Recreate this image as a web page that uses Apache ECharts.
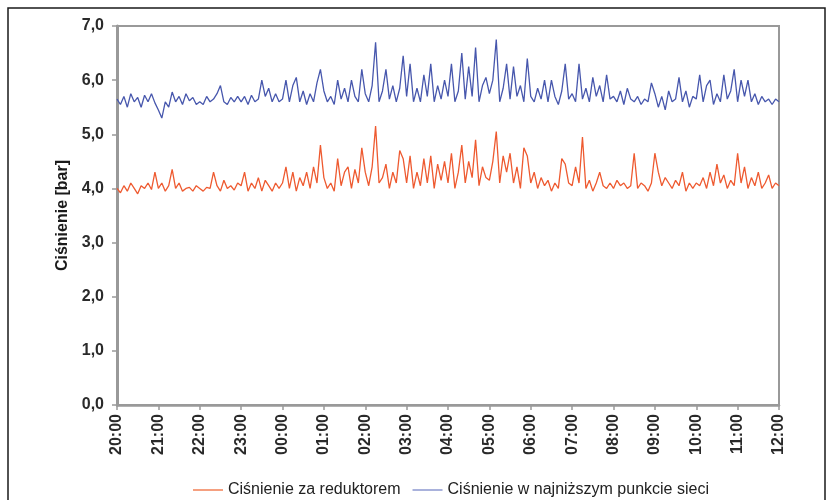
<!DOCTYPE html>
<html><head><meta charset="utf-8">
<script src="https://cdn.jsdelivr.net/npm/echarts@6/dist/echarts.min.js"></script>
<style>html,body{margin:0;padding:0;background:#fff}#c{width:828px;height:500px}</style>
</head><body><div id="c"></div>
<script>
// time in hours from 20:00, 5-minute steps
const stepHours = 5 / 60;
const xTickLabels = ['20:00','21:00','22:00','23:00','00:00','01:00','02:00','03:00','04:00','05:00','06:00','07:00','08:00','09:00','10:00','11:00','12:00'];
const yTickLabels = ['0,0','1,0','2,0','3,0','4,0','5,0','6,0','7,0'];
const seriesNames = ['Ciśnienie za reduktorem', 'Ciśnienie w najniższym punkcie sieci'];

const reduktor = [
 4.0,3.92,4.05,3.95,4.1,4.0,3.9,4.05,4.0,4.1,3.98,4.3,
 4.0,4.1,3.95,4.05,4.35,4.0,4.1,3.95,4.0,4.02,3.95,4.05,
 4.0,3.95,4.02,4.0,4.3,4.05,3.95,4.15,4.0,4.05,3.97,4.1,
 4.05,4.3,3.95,4.1,4.0,4.2,3.95,4.15,4.05,3.95,4.1,4.0,
 4.1,4.4,4.0,4.3,3.95,4.2,4.05,4.3,4.0,4.4,4.1,4.8,
 4.2,4.0,4.1,3.95,4.55,4.05,4.3,4.4,4.0,4.35,4.1,4.75,
 4.3,4.05,4.4,5.15,4.1,4.2,4.45,4.0,4.3,4.1,4.7,4.55,
 4.1,4.6,4.0,4.3,4.05,4.55,4.1,4.6,4.0,4.45,4.15,4.5,
 4.1,4.65,4.0,4.3,4.8,4.1,4.5,4.2,4.9,4.05,4.4,4.2,
 4.15,4.5,5.05,4.1,4.6,4.3,4.65,4.1,4.4,4.0,4.75,4.6,
 4.1,4.3,4.0,4.2,4.05,4.15,3.95,4.1,4.0,4.55,4.45,4.1,
 4.05,4.4,4.1,4.95,4.0,4.15,3.95,4.1,4.3,4.05,4.0,4.1,
 4.0,4.15,4.05,4.1,4.0,4.05,4.65,4.0,4.1,4.05,3.95,4.1,
 4.65,4.3,4.05,4.2,4.1,4.0,4.15,4.05,4.3,3.95,4.1,4.0,
 4.1,4.05,4.2,4.0,4.3,4.05,4.45,4.1,4.25,4.0,4.15,4.05,
 4.65,4.1,4.4,4.0,4.2,4.05,4.3,4.0,4.1,4.25,4.0,4.1,
 4.05
];
const najnizszy = [
 5.65,5.55,5.7,5.5,5.75,5.6,5.68,5.5,5.72,5.6,5.75,5.58,
 5.45,5.3,5.6,5.5,5.78,5.6,5.7,5.55,5.75,5.62,5.68,5.55,
 5.6,5.55,5.7,5.6,5.65,5.75,5.9,5.6,5.55,5.68,5.6,5.7,
 5.6,5.7,5.55,5.72,5.6,5.65,6.0,5.7,5.85,5.6,5.75,5.6,
 5.65,6.0,5.6,5.9,6.05,5.6,5.8,5.55,5.75,5.6,5.95,6.2,
 5.8,5.6,5.7,5.55,6.0,5.65,5.85,5.6,6.0,5.7,5.6,6.2,
 5.75,5.6,5.9,6.7,5.6,5.8,6.2,5.65,5.9,5.6,5.85,6.45,
 5.7,6.3,5.6,5.85,5.6,6.1,5.7,6.3,5.6,5.9,5.65,6.0,
 5.7,6.3,5.6,5.8,6.5,5.65,6.25,5.7,6.6,5.6,5.9,6.05,
 5.75,6.0,6.75,5.6,5.85,6.3,5.65,6.25,5.7,5.9,5.6,6.4,
 5.7,5.6,5.85,5.65,6.0,5.6,6.0,5.7,5.55,5.8,6.3,5.65,
 5.75,5.6,6.3,5.65,5.85,5.6,6.05,5.7,5.9,5.6,6.1,5.65,
 5.7,5.6,5.8,5.55,5.85,5.65,5.6,5.7,5.55,5.65,5.6,5.95,
 5.75,5.5,5.7,5.45,5.8,5.6,5.65,6.05,5.6,5.8,5.5,5.7,
 5.65,6.1,5.6,5.9,6.0,5.55,5.75,5.6,6.1,5.65,5.8,6.2,
 5.6,6.0,5.7,6.0,5.6,5.75,5.55,5.7,5.6,5.65,5.55,5.65,
 5.6
];

const toPairs = arr => arr.map((v, i) => [i * stepHours, v]);

const chart = echarts.init(document.getElementById('c'), null, {renderer: 'canvas'});
const axisGray = '#999999';
const font = 'Liberation Sans, Arial, sans-serif';
chart.setOption({
  animation: false,
  backgroundColor: '#fff',
  graphic: [{
    type: 'rect', shape: {x: 8, y: 8, width: 817, height: 510},
    style: {fill: 'none', stroke: '#1a1a1a', lineWidth: 1.5}, silent: true
  }],
  grid: {left: 117, right: 49, top: 26, bottom: 95, show: true, borderColor: axisGray, borderWidth: 2},
  legend: {
    left: 188, top: 477, itemWidth: 30, itemHeight: 2, itemGap: 12, icon: 'rect',
    textStyle: {fontFamily: font, fontSize: 16, color: '#222'},
    data: seriesNames
  },
  xAxis: {
    type: 'value', min: 0, max: 16, interval: 1,
    axisLine: {show: true, lineStyle: {color: axisGray, width: 2.5}},
    axisTick: {show: true, length: 5, lineStyle: {color: axisGray, width: 1.5}},
    splitLine: {show: false},
    axisLabel: {
      rotate: 90, margin: 9, color: '#2a2a2a', fontWeight: 'bold', fontSize: 16,
      fontFamily: font,
      formatter: v => xTickLabels[Math.round(v)]
    }
  },
  yAxis: {
    type: 'value', min: 0, max: 7, interval: 1,
    name: 'Ciśnienie [bar]', nameLocation: 'middle', nameGap: 42,
    nameTextStyle: {fontWeight: 'bold', fontSize: 16, color: '#1a1a1a', fontFamily: font},
    axisLine: {show: true, lineStyle: {color: axisGray, width: 3}},
    axisTick: {show: true, length: 5, lineStyle: {color: axisGray, width: 1.5}},
    splitLine: {show: false},
    axisLabel: {
      margin: 13, color: '#2a2a2a', fontWeight: 'bold', fontSize: 16,
      fontFamily: font,
      formatter: v => yTickLabels[Math.round(v)]
    }
  },
  series: [
    {name: seriesNames[0], type: 'line', data: toPairs(reduktor), showSymbol: false, symbol: 'none',
     lineStyle: {color: '#ee5a30', width: 1.3}, itemStyle: {color: '#f5a080'}},
    {name: seriesNames[1], type: 'line', data: toPairs(najnizszy), showSymbol: false, symbol: 'none',
     lineStyle: {color: '#4757ad', width: 1.3}, itemStyle: {color: '#a9b2dc'}}
  ]
});
</script></body></html>
